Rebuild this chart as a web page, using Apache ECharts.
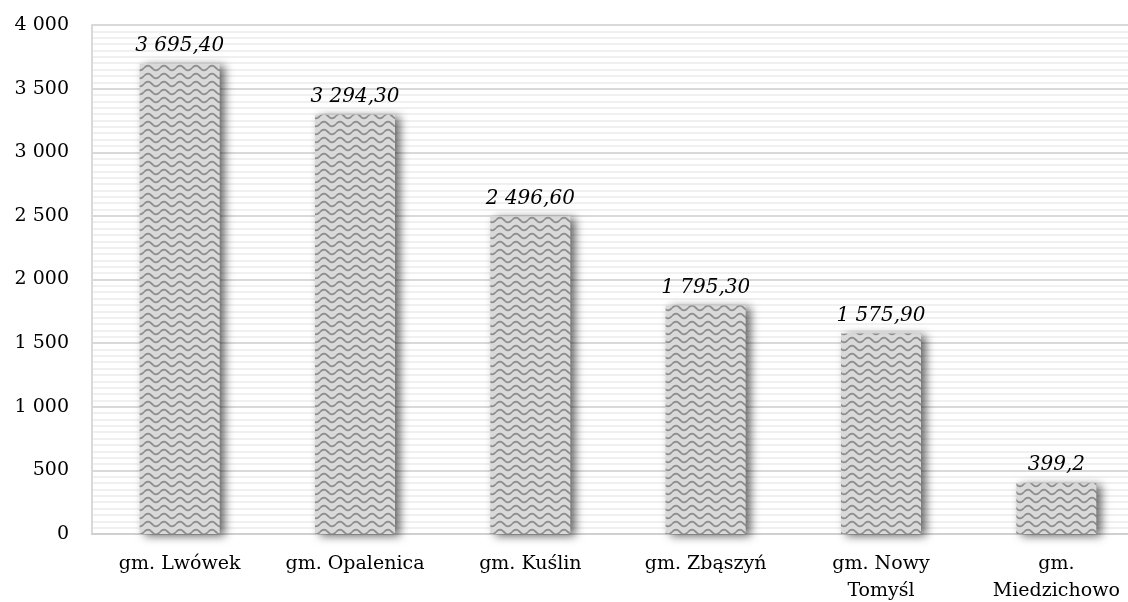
<!DOCTYPE html>
<html>
<head>
<meta charset="utf-8">
<script src="https://cdn.jsdelivr.net/npm/echarts@6/dist/echarts.min.js"></script>
<style>
  html, body { margin: 0; padding: 0; background: #fff; }
  #chart { width: 1128px; height: 602px; }
</style>
</head>
<body>
<div id="chart"></div>
<script>
// data
const categories = ['gm. Lwówek', 'gm. Opalenica', 'gm. Kuślin', 'gm. Zbąszyń', 'gm. Nowy\nTomyśl', 'gm.\nMiedzichowo'];
const values = [3695.4, 3294.3, 2496.6, 1795.3, 1575.9, 399.2];
const valueLabels = ['3 695,40', '3 294,30', '2 496,60', '1 795,30', '1 575,90', '399,2'];

const FONT = 'DejaVu Serif';

// wavy hatch fill for the bars
function wavePattern() {
    const c = document.createElement('canvas');
    c.width = 16;
    c.height = 8;
    const ctx = c.getContext('2d');
    ctx.fillStyle = '#d9d9d9';
    ctx.fillRect(0, 0, 16, 8);
    ctx.strokeStyle = '#8c8c8c';
    ctx.lineWidth = 1.8;
    ctx.beginPath();
    for (let x = 0; x <= 16; x++) {
        const y = 4 - 2.4 * Math.sin(x / 16 * Math.PI * 2);
        if (x === 0) ctx.moveTo(x, y); else ctx.lineTo(x, y);
    }
    ctx.stroke();
    return c;
}

const chart = echarts.init(document.getElementById('chart'));
chart.setOption({
    animation: false,
    grid: {
        left: 92,
        top: 25,
        bottom: 68,
        width: 1052,
        containLabel: false,
        outerBoundsMode: 'none'
    },
    xAxis: {
        type: 'category',
        data: categories,
        axisTick: { show: false },
        axisLine: { lineStyle: { color: '#d0d0d0', width: 2 } },
        axisLabel: {
            color: '#000',
            fontFamily: FONT,
            fontSize: 19,
            lineHeight: 27,
            margin: 17,
            interval: 0
        }
    },
    yAxis: {
        type: 'value',
        min: 0,
        max: 4000,
        interval: 500,
        axisLine: { show: true, lineStyle: { color: '#d9d9d9', width: 2 } },
        axisTick: { show: false },
        axisLabel: {
            color: '#000',
            fontFamily: FONT,
            fontSize: 19,
            margin: 23,
            formatter: v => String(v).replace(/\B(?=(\d{3})+(?!\d))/g, ' ')
        },
        splitLine: { lineStyle: { color: '#d9d9d9', width: 2 } },
        minorTick: { show: false, splitNumber: 10 },
        minorSplitLine: { show: true, lineStyle: { color: '#f0f0f0', width: 2 } }
    },
    series: [{
        type: 'bar',
        data: values,
        barWidth: 80,
        itemStyle: {
            color: { image: wavePattern(), repeat: 'repeat' },
            shadowColor: 'rgba(0,0,0,0.6)',
            shadowBlur: 10,
            shadowOffsetX: 5,
            shadowOffsetY: 2
        },
        label: {
            show: true,
            position: 'top',
            distance: 8,
            color: '#000',
            fontFamily: FONT,
            fontStyle: 'italic',
            fontSize: 20,
            formatter: p => valueLabels[p.dataIndex]
        }
    }]
});
</script>
</body>
</html>
